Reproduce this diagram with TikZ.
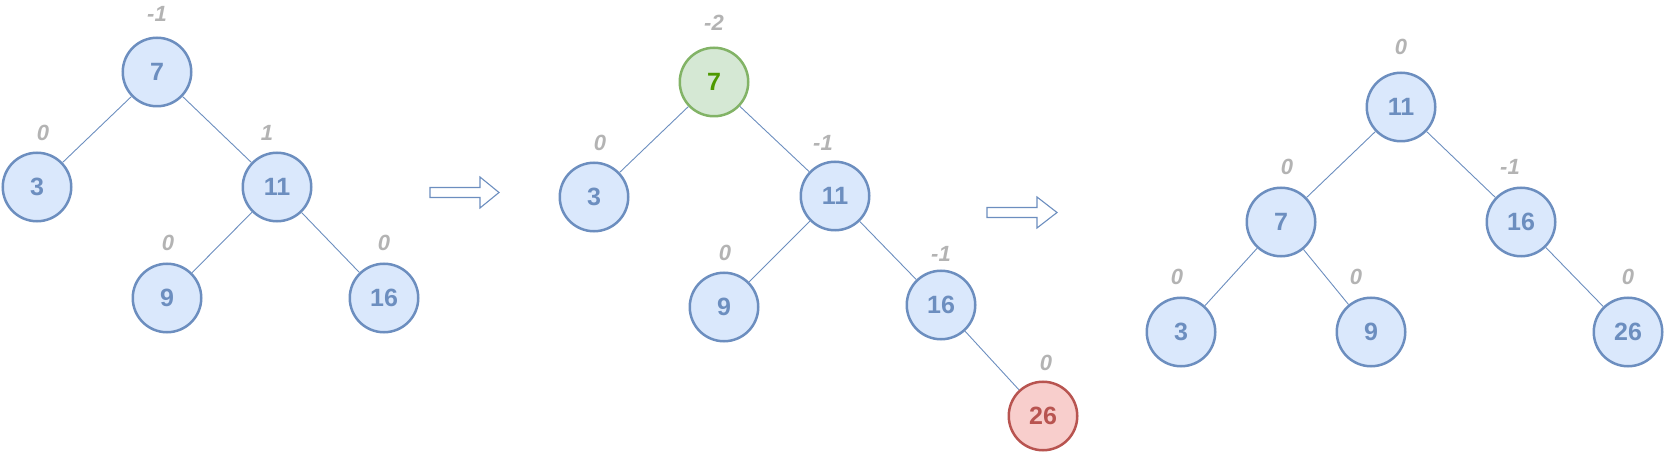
\documentclass[tikz,border=0pt]{standalone}
\usepackage{fontspec}
\setmainfont{Liberation Sans}
\definecolor{bfill}{HTML}{DAE8FC}
\definecolor{bline}{HTML}{6C8EBF}
\definecolor{gfill}{HTML}{D5E8D4}
\definecolor{gline}{HTML}{82B366}
\definecolor{gtext}{HTML}{4D9900}
\definecolor{rfill}{HTML}{F8CECC}
\definecolor{rline}{HTML}{B85450}
\definecolor{lbl}{HTML}{B3B3B3}
\tikzset{
  tn/.style={circle, minimum size=68.5pt, inner sep=0pt, line width=2.5pt, draw=bline, fill=bfill, text=bline,
             font=\fontsize{25}{25}\selectfont\bfseries},
  gn/.style={tn, draw=gline, fill=gfill, text=gtext},
  rn/.style={tn, draw=rline, fill=rfill, text=rline},
  bal/.style={inner sep=0pt, text=lbl, font=\fontsize{22}{22}\selectfont\bfseries\itshape},
  edge/.style={draw=bline, line width=0.9pt},
  bigarrow/.style={draw=bline, fill=white, line width=1.1pt, line join=miter}
}
\begin{document}
\begin{tikzpicture}[x=1pt,y=-1pt]
\useasboundingbox (0,0) rectangle (1665,454);
% ---------- tree 1 ----------
\node[tn] (a7)  at (157,72)  {7};
\node[tn] (a3)  at (37,187)  {3};
\node[tn] (a11) at (277,187) {11};
\node[tn] (a9)  at (167,298) {9};
\node[tn] (a16) at (384,298) {16};
\draw[edge] (a7) -- (a3);
\draw[edge] (a7) -- (a11);
\draw[edge] (a11) -- (a9);
\draw[edge] (a11) -- (a16);
\node[bal] (la7)  at (157,14)  {-1};
\node[bal] (la3)  at (43,133)  {0};
\node[bal] (la11) at (267,133) {1};
\node[bal] (la9)  at (168,243) {0};
\node[bal] (la16) at (384,243) {0};
% ---------- arrow 1 ----------
\draw[bigarrow] (430,187.5) -- (480,187.5) -- (480,177) -- (499,192.5) -- (480,208) -- (480,197.5) -- (430,197.5) -- cycle;
% ---------- tree 2 ----------
\node[gn] (b7)  at (714,82)  {7};
\node[tn] (b3)  at (594,197) {3};
\node[tn] (b11) at (835,196) {11};
\node[tn] (b9)  at (724,307) {9};
\node[tn] (b16) at (941,305) {16};
\node[rn] (b26) at (1043,416) {26};
\draw[edge] (b7) -- (b3);
\draw[edge] (b7) -- (b11);
\draw[edge] (b11) -- (b9);
\draw[edge] (b11) -- (b16);
\draw[edge] (b16) -- (b26);
\node[bal] (lb7)  at (714,23)  {-2};
\node[bal] (lb3)  at (600,143) {0};
\node[bal] (lb11) at (823,143) {-1};
\node[bal] (lb9)  at (725,253) {0};
\node[bal] (lb16) at (941,254) {-1};
\node[bal] (lb26) at (1046,363) {0};
% ---------- arrow 2 ----------
\draw[bigarrow] (987,207.5) -- (1037,207.5) -- (1037,197) -- (1057,212.5) -- (1037,228) -- (1037,217.5) -- (987,217.5) -- cycle;
% ---------- tree 3 ----------
\node[tn] (c11) at (1401,107) {11};
\node[tn] (c7)  at (1281,222) {7};
\node[tn] (c16) at (1521,222) {16};
\node[tn] (c3)  at (1181,332) {3};
\node[tn] (c9)  at (1371,332) {9};
\node[tn] (c26) at (1628,332) {26};
\draw[edge] (c11) -- (c7);
\draw[edge] (c11) -- (c16);
\draw[edge] (c7) -- (c3);
\draw[edge] (c7) -- (c9);
\draw[edge] (c16) -- (c26);
\node[bal] (lc11) at (1401,47)  {0};
\node[bal] (lc7)  at (1287,167) {0};
\node[bal] (lc16) at (1510,167) {-1};
\node[bal] (lc3)  at (1177,277) {0};
\node[bal] (lc9)  at (1356,277) {0};
\node[bal] (lc26) at (1628,277) {0};
\end{tikzpicture}
\end{document}
